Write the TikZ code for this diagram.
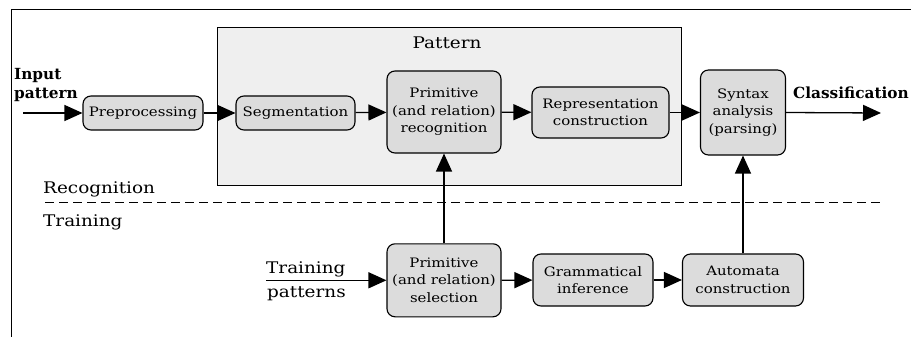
\documentclass[tikz,border=0pt]{standalone}
\usepackage{fontspec}
\setmainfont{DejaVu Serif}
\newfontfamily\widefont[FakeStretch=1.15]{DejaVu Serif}
\usetikzlibrary{arrows.meta}
\definecolor{boxfill}{HTML}{DCDCDC}
\definecolor{panelfill}{HTML}{EFEFEF}
\tikzset{
  stage/.style={draw=black, line width=1.1pt, fill=boxfill, rounded corners=8pt,
    align=center, inner sep=0pt, font=\widefont\fontsize{13}{17.5}\selectfont},
  flow/.style={line width=1.3pt, -{Triangle[length=18pt,width=16pt]}},
  side/.style={font=\widefont\fontsize{16}{18}\selectfont, inner sep=0pt},
  bold/.style={font=\bfseries\fontsize{15.3}{18}\selectfont, inner sep=0pt}
}
\begin{document}
\begin{tikzpicture}[x=1pt,y=-1pt]
\useasboundingbox (0,0) rectangle (911,337);
% outer frame (top and left edges)
\draw[line width=1.2pt] (11.5,337) -- (11.5,9.5) -- (911,9.5);
% pattern panel
\draw[line width=1pt, fill=panelfill] (217,28) rectangle (681,185);
\node[side, anchor=base] (ptitle) at (447,49) {Pattern};

% stages
\node[stage, minimum width=120pt, minimum height=34pt] (pre) at (143,113) {Preprocessing};
\node[stage, minimum width=119pt, minimum height=34pt] (seg) at (295.5,113) {Segmentation};
\node[stage, minimum width=114pt, minimum height=82pt] (prec) at (444,112) {Primitive\\(and relation)\\recognition};
\node[stage, minimum width=137pt, minimum height=51pt] (rep) at (600.5,112.5) {Representation\\construction};
\node[stage, minimum width=85pt, minimum height=85pt] (syn) at (743,112.5) {Syntax\\analysis\\(parsing)};
\node[stage, minimum width=114pt, minimum height=73pt] (psel) at (444,280.3) {Primitive\\(and relation)\\selection};
\node[stage, minimum width=120pt, minimum height=52pt] (gram) at (593,280) {Grammatical\\inference};
\node[stage, minimum width=121pt, minimum height=52pt] (auto) at (743,280) {Automata\\construction};

% labels
\node[bold, anchor=base west] (inlab1) at (14,80) {Input};
\node[bold, anchor=base west] (inlab2) at (14,98.5) {pattern};
\node[bold, anchor=base west] (clab) at (793,99) {Classification};
\node[side, anchor=base west] (recog) at (43,193) {Recognition};
\node[side, anchor=base west] (train) at (43,226.5) {Training};
\node[side, anchor=base west] (tp1) at (266,273) {Training};
\node[side, anchor=base west] (tp2) at (267,297) {patterns};

\coordinate (inA) at (23,113);
\coordinate (outB) at (881,113);
\coordinate (tpA) at (266,280.3);
\coordinate (dashA) at (45,202.5);
\coordinate (dashB) at (881,202.5);

% phase separator
\draw[line width=1.1pt, dash pattern=on 9pt off 5pt] (dashA) -- (dashB);

% connectors
\draw[flow] (inA) -- (pre.west);
\draw[flow] (pre) -- (seg);
\draw[flow] (seg) -- (prec);
\draw[flow] (prec) -- (rep);
\draw[flow] (rep) -- (syn);
\draw[flow] (syn.east) -- (outB);
\draw[flow] (tpA) -- (psel.west);
\draw[flow] (psel) -- (prec);
\draw[flow] (psel) -- (gram);
\draw[flow] (gram) -- (auto);
\draw[flow] (auto) -- (syn);
\end{tikzpicture}
\end{document}
